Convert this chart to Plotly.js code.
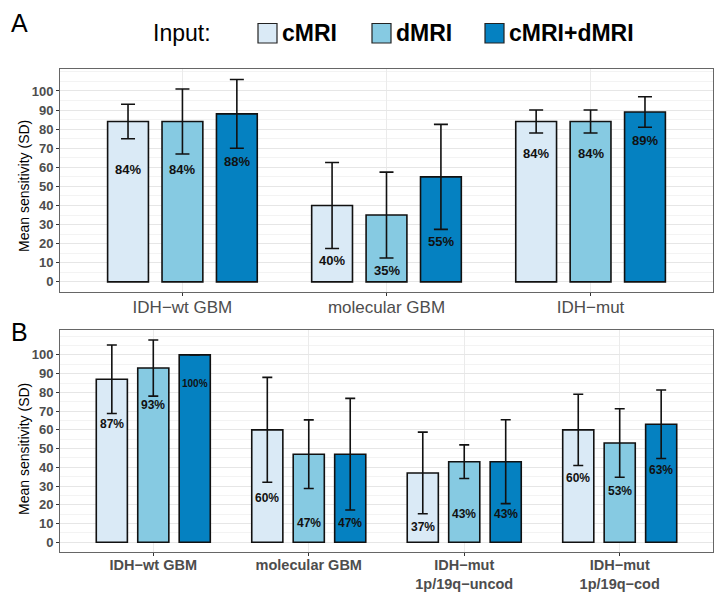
<!DOCTYPE html>
<html>
<head>
<meta charset="utf-8">
<script src="https://cdn.plot.ly/plotly-3.0.1.min.js"></script>
<style>html,body{margin:0;padding:0;background:#fff}#chart{width:722px;height:597px}</style>
</head>
<body>
<div id="chart"></div>
<script>
// ---------- data ----------
const seriesNames = ['cMRI', 'dMRI', 'cMRI+dMRI'];
const seriesColors = ['#DAEAF6', '#86CAE2', '#0581C1'];

const groupsA = ['IDH\u2212wt GBM', 'molecular GBM', 'IDH\u2212mut'];
const meanA_cMRI = [84, 40, 84];
const sdA_cMRI   = [9, 22.5, 6];
const meanA_dMRI = [84, 35, 84];
const sdA_dMRI   = [17, 22.5, 6];
const meanA_comb = [88, 55, 89];
const sdA_comb   = [18, 27.5, 8];
const labelA_cMRI = ['84%', '40%', '84%'];
const labelA_dMRI = ['84%', '35%', '84%'];
const labelA_comb = ['88%', '55%', '89%'];
const labelYA_cMRI = [59, 11, 67];
const labelYA_dMRI = [59, 6, 67];
const labelYA_comb = [63, 21, 74];

const groupsB = ['IDH\u2212wt GBM', 'molecular GBM', 'IDH\u2212mut<br>1p/19q\u2212uncod', 'IDH\u2212mut<br>1p/19q\u2212cod'];
const meanB_cMRI = [87, 60, 37, 60];
const sdB_cMRI   = [18.3, 28, 21.8, 19];
const meanB_dMRI = [93, 47, 43, 53];
const sdB_dMRI   = [15, 18.3, 9, 18.3];
const meanB_comb = [100, 47, 43, 63];
const sdB_comb   = [0, 29.8, 22.4, 18.3];
const labelB_cMRI = ['87%', '60%', '37%', '60%'];
const labelB_dMRI = ['93%', '47%', '43%', '53%'];
const labelB_comb = ['100%', '47%', '43%', '63%'];
const labelYB_cMRI = [63, 23.5, 8, 34.2];
const labelYB_dMRI = [73.3, 10.5, 15, 27.4];
const labelYB_comb = [85, 10.5, 15, 38.6];

const yTicks = [0,10,20,30,40,50,60,70,80,90,100];

// ---------- build ----------
const FONT = 'Liberation Sans, Arial, sans-serif';
const W = 722, H = 597;
const BARGAP = 0.2, GROUPGAP = 0.25;
const px = v => v / W;           // page pixel -> paper x (margins are zero)
const py = v => 1 - v / H;       // page pixel -> paper y

function barTrace(i, groups, means, sds, xa, ya, capw) {
  return {
    type: 'bar', name: seriesNames[i], x: groups, y: means,
    xaxis: xa, yaxis: ya, showlegend: false,
    marker: {color: seriesColors[i], line: {color: '#111', width: 1.6}},
    error_y: {type: 'data', array: sds, visible: true, color: '#111', thickness: 1.6, width: capw},
    hoverinfo: 'skip'
  };
}

const data = [
  barTrace(0, groupsA, meanA_cMRI, sdA_cMRI, 'x', 'y', 7),
  barTrace(1, groupsA, meanA_dMRI, sdA_dMRI, 'x', 'y', 7),
  barTrace(2, groupsA, meanA_comb, sdA_comb, 'x', 'y', 7),
  barTrace(0, groupsB, meanB_cMRI, sdB_cMRI, 'x2', 'y2', 5),
  barTrace(1, groupsB, meanB_dMRI, sdB_dMRI, 'x2', 'y2', 5),
  barTrace(2, groupsB, meanB_comb, sdB_comb, 'x2', 'y2', 5)
];

// value labels, placed at the dodge offsets of the grouped bars
const annotations = [];
const shapes = [];
const slot = (1 - BARGAP) / 3;
function addLabels(groups, labels, ys, i, xref, yref, size) {
  groups.forEach((g, k) => {
    const txt = labels[k];
    annotations.push({
      xref: xref, yref: yref, x: k + (i - 1) * slot, y: ys[k],
      text: '<b>' + txt + '</b>', showarrow: false,
      font: {family: FONT, size: txt.length > 3 ? size - 2 : size, color: '#111'}
    });
  });
}
addLabels(groupsA, labelA_cMRI, labelYA_cMRI, 0, 'x', 'y', 13);
addLabels(groupsA, labelA_dMRI, labelYA_dMRI, 1, 'x', 'y', 13);
addLabels(groupsA, labelA_comb, labelYA_comb, 2, 'x', 'y', 13);
addLabels(groupsB, labelB_cMRI, labelYB_cMRI, 0, 'x2', 'y2', 12);
addLabels(groupsB, labelB_dMRI, labelYB_dMRI, 1, 'x2', 'y2', 12);
addLabels(groupsB, labelB_comb, labelYB_comb, 2, 'x2', 'y2', 12);

// panel letters
annotations.push({xref: 'paper', yref: 'paper', x: px(9), y: py(7), xanchor: 'left', yanchor: 'top',
  text: 'A', showarrow: false, font: {family: FONT, size: 25, color: '#000'}});
annotations.push({xref: 'paper', yref: 'paper', x: px(9), y: py(316), xanchor: 'left', yanchor: 'top',
  text: 'B', showarrow: false, font: {family: FONT, size: 25, color: '#000'}});

// y-axis titles
[186, 449].forEach(cy => {
  annotations.push({xref: 'paper', yref: 'paper', x: px(24), y: py(cy), xanchor: 'center', yanchor: 'middle',
    text: 'Mean sensitivity (SD)', textangle: -90, showarrow: false,
    font: {family: FONT, size: 14, color: '#000'}});
});

// legend (drawn by hand so the keys match the reference size)
const legendY = 33;
annotations.push({xref: 'paper', yref: 'paper', x: px(151), y: py(legendY), xanchor: 'left', yanchor: 'middle',
  text: 'Input:', showarrow: false, font: {family: FONT, size: 23, color: '#000'}});
const keyX = [258, 372, 485];
seriesNames.forEach((name, i) => {
  shapes.push({type: 'rect', xref: 'paper', yref: 'paper',
    x0: px(keyX[i]), x1: px(keyX[i] + 19), y0: py(legendY + 10), y1: py(legendY - 9.5),
    fillcolor: seriesColors[i], line: {color: '#222', width: 1.2}});
  annotations.push({xref: 'paper', yref: 'paper', x: px(keyX[i] + 22), y: py(legendY), xanchor: 'left', yanchor: 'middle',
    text: '<b>' + name + '</b>', showarrow: false, font: {family: FONT, size: 23, color: '#000'}});
});

function yAxis(domain, range, anchor) {
  return {
    domain: domain, range: range, anchor: anchor,
    tickvals: yTicks, ticks: 'outside', ticklen: 3, tickcolor: '#333', tickwidth: 1,
    tickfont: {family: FONT, size: 13, color: '#4d4d4d', weight: 'bold'},
    showgrid: true, gridcolor: '#e6e6e6', gridwidth: 1,
    minor: {dtick: 5, tick0: 0, showgrid: true, gridcolor: '#f3f3f3', gridwidth: 1},
    showline: true, mirror: true, linecolor: '#666', linewidth: 1,
    zeroline: false, fixedrange: true
  };
}
function xAxis(domain, range, anchor, fsize, weight) {
  return {
    domain: domain, range: range, anchor: anchor, type: 'category',
    ticks: 'outside', ticklen: 3, tickcolor: '#333',
    tickfont: {family: FONT, size: fsize, color: '#4d4d4d', weight: weight},
    showgrid: true, gridcolor: '#ebebeb', gridwidth: 1,
    showline: true, mirror: true, linecolor: '#666', linewidth: 1,
    zeroline: false, fixedrange: true
  };
}

const layout = {
  width: W, height: H,
  margin: {l: 0, r: 0, t: 0, b: 0},
  paper_bgcolor: '#fff', plot_bgcolor: '#fff',
  barmode: 'group', bargap: BARGAP, bargroupgap: GROUPGAP,
  font: {family: FONT},
  xaxis: xAxis([px(60), px(713)], [-0.6, 2.6], 'y', 17, 'normal'),
  yaxis: yAxis([py(292), py(69)], [-5.3, 111.5], 'x'),
  xaxis2: xAxis([px(60), px(713)], [-0.6, 3.6], 'y2', 14.5, 'bold'),
  yaxis2: yAxis([py(552), py(330)], [-5.2, 113.3], 'x2'),
  showlegend: false,
  annotations: annotations,
  shapes: shapes
};
layout.xaxis.ticklabelstandoff = -3;
layout.xaxis2.ticklabelstandoff = -3;

Plotly.newPlot('chart', data, layout, {displayModeBar: false, staticPlot: true});
</script>
</body>
</html>
